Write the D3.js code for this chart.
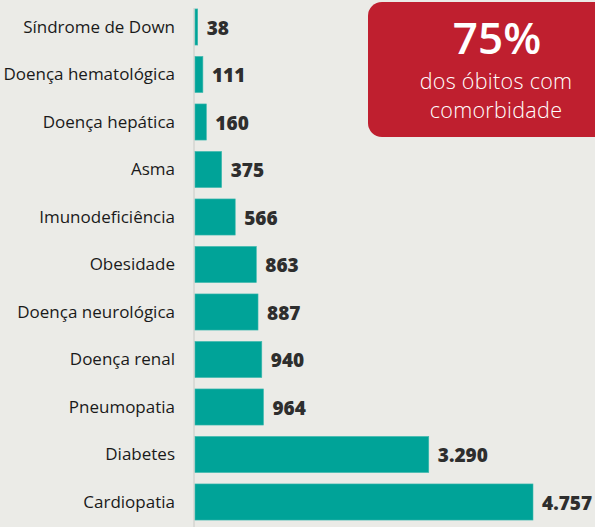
<!DOCTYPE html>
<html><head><meta charset="utf-8">
<script src="https://cdn.jsdelivr.net/npm/d3@7"></script>
<style>html,body{margin:0;padding:0;background:#ebebe7;}svg{display:block;}</style>
</head><body>
<script>
const categories = ["Síndrome de Down","Doença hematológica","Doença hepática","Asma","Imunodeficiência","Obesidade","Doença neurológica","Doença renal","Pneumopatia","Diabetes","Cardiopatia"];
const values = [38,111,160,375,566,863,887,940,964,3290,4757];
const valueLabels = ["38","111","160","375","566","863","887","940","964","3.290","4.757"];
const boxTitle = "75%";
const boxLines = ["dos óbitos com","comorbidade"];

const W = 595, H = 527;
const svg = d3.select("body").append("svg").attr("width", W).attr("height", H);
svg.append("rect").attr("width", W).attr("height", H).attr("fill", "#ebebe7");

const x0 = 195;
const x = d3.scaleLinear().domain([0, 4757]).range([x0, 533]);
const y = d3.scaleBand().domain(categories).range([3.25, 525.75]).paddingInner(0.24).paddingOuter(0.12);

svg.append("line").attr("x1", x0 - 1).attr("x2", x0 - 1).attr("y1", 8).attr("y2", H)
  .attr("stroke", "#c9cac6").attr("stroke-width", 1);

svg.selectAll("rect.bar").data(values).join("rect").attr("class", "bar")
  .attr("x", x0).attr("y", (d, i) => y(categories[i]))
  .attr("width", d => x(d) - x0).attr("height", y.bandwidth())
  .attr("fill", "#00a398").attr("stroke", "#3fb9ae").attr("stroke-width", 0.6);

svg.selectAll("text.cat").data(categories).join("text").attr("class", "cat")
  .attr("x", 175).attr("y", d => y(d) + y.bandwidth() / 2)
  .attr("dy", "0.35em").attr("text-anchor", "end")
  .attr("font-family", "'Open Sans', sans-serif").attr("font-size", 17)
  .attr("fill", "#1a1a1a").text(d => d);

svg.selectAll("text.val").data(values).join("text").attr("class", "val")
  .attr("x", d => x(d) + 9).attr("y", (d, i) => y(categories[i]) + y.bandwidth() / 2)
  .attr("dy", "0.4em")
  .attr("font-family", "'Open Sans', sans-serif").attr("font-weight", 800).attr("font-size", 19)
  .attr("fill", "#2e2e2e").text((d, i) => valueLabels[i]);

svg.append("rect").attr("x", 368).attr("y", 2).attr("width", 260).attr("height", 135)
  .attr("rx", 14).attr("fill", "#bf1f2f");
svg.append("text").attr("x", 497).attr("y", 54).attr("text-anchor", "middle")
  .attr("font-family", "'Open Sans', sans-serif").attr("font-weight", 600).attr("font-size", 44)
  .attr("fill", "#fff").text(boxTitle);
boxLines.forEach((t, i) => {
  svg.append("text").attr("x", 496).attr("y", 89 + i * 29).attr("text-anchor", "middle")
    .attr("font-family", "'Open Sans', sans-serif").attr("font-weight", 300).attr("font-size", 21.5)
    .attr("letter-spacing", 0.3)
    .attr("fill", "#fff").text(t);
});
</script>
</body></html>
